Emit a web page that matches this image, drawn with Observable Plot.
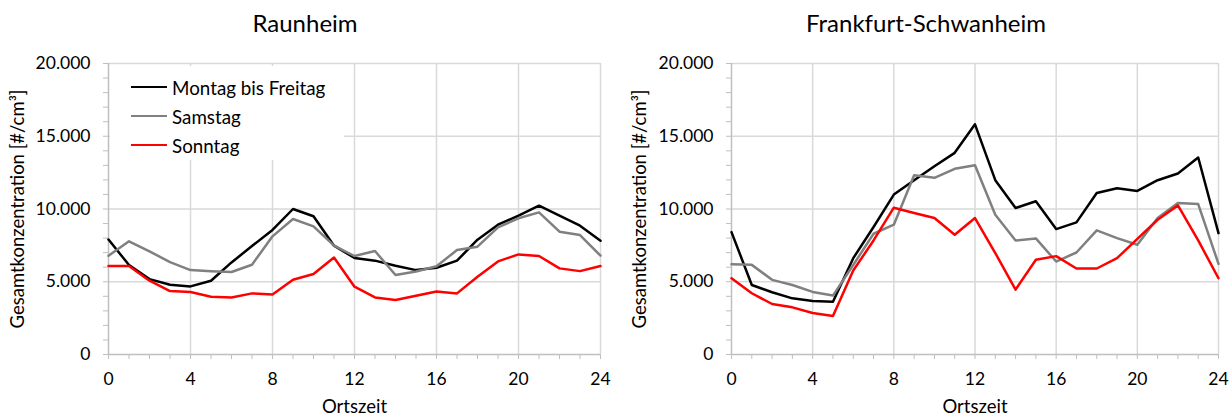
<!DOCTYPE html>
<html><head><meta charset="utf-8">
<script src="https://cdn.jsdelivr.net/npm/d3@7"></script>
<script src="https://cdn.jsdelivr.net/npm/@observablehq/plot@0.6"></script>
<style>
body{margin:0;background:#fff;font-family:Lato,"Open Sans",sans-serif;}
#wrap{position:relative;width:1231px;height:418px;overflow:hidden;}
.panel{position:absolute;top:45px;}
.title{position:absolute;top:8px;font-size:24px;line-height:29px;color:#000;transform:translateX(-50%);white-space:nowrap;}
.legend{position:absolute;left:110px;top:66px;width:234px;height:94px;background:#fff;}
.item{position:absolute;left:21px;height:22px;display:flex;align-items:center;font-size:18.8px;color:#000;white-space:nowrap;}
.sw{width:36px;height:0;border-top:2.5px solid;margin-right:5px;}
</style></head>
<body><div id="wrap"></div>
<script>
const hours = [0,1,2,3,4,5,6,7,8,9,10,11,12,13,14,15,16,17,18,19,20,21,22,23,24];
const seriesNames = ["Montag bis Freitag","Samstag","Sonntag"];
const seriesColors = ["#000000","#808080","#ff0000"];
const panelTitles = ["Raunheim","Frankfurt-Schwanheim"];
const yLabel = "Gesamtkonzentration [#/cm³]";
const xLabel = "Ortszeit";
const yMajorTicks = [0,5000,10000,15000,20000];
const yMinorTicks = [0,1000,2000,3000,4000,5000,6000,7000,8000,9000,10000,11000,12000,13000,14000,15000,16000,17000,18000,19000,20000];
const xMajorTicks = [0,4,8,12,16,20,24];

// Raunheim
const raunheimWeekday = [7900,6150,5180,4790,4680,5070,6330,7450,8560,10000,9500,7480,6630,6450,6100,5800,5960,6450,7890,8920,9540,10230,9540,8850,7820];
const raunheimSaturday = [6790,7780,7090,6350,5800,5730,5670,6170,8120,9310,8810,7480,6770,7110,5460,5710,6060,7180,7410,8740,9360,9770,8440,8210,6790];
const raunheimSunday = [6080,6080,5070,4360,4290,3970,3920,4200,4130,5140,5530,6670,4660,3920,3740,4040,4330,4200,5340,6400,6880,6770,5920,5730,6080];
// Frankfurt-Schwanheim
const schwanheimWeekday = [8410,4780,4280,3860,3680,3630,6620,8760,10990,11980,12940,13860,15820,11980,10070,10530,8620,9080,11100,11430,11240,11980,12440,13540,8340];
const schwanheimSaturday = [6210,6160,5130,4780,4300,4050,6150,8300,8920,12320,12140,12760,13010,9610,7840,7980,6390,7010,8530,8000,7540,9380,10410,10340,6230];
const schwanheimSunday = [5240,4210,3470,3240,2850,2640,5770,7840,10090,9720,9380,8230,9380,6970,4460,6510,6760,5910,5910,6620,7950,9260,10250,7840,5240];

const fmtDE = d3.formatLocale({decimal:",", thousands:".", grouping:[3], currency:["","€"]}).format(",d");

function rowsOf(series){
  const rows = [];
  series.forEach((vals, k) => hours.forEach((h, i) => rows.push({h, v: vals[i], s: seriesNames[k]})));
  return rows;
}

function chart(series, w, ml, mr, lblOff){
  const axisColor = "#bfbfbf", gridColor = "#d9d9d9";
  return Plot.plot({
    width: w, height: 373,
    marginTop: 18, marginBottom: 64, marginLeft: ml, marginRight: mr,
    style: {fontFamily: "Lato, 'Open Sans', sans-serif", fontSize: "17.5px", color: "#000", background: "transparent"},
    x: {domain: [0, 24]},
    y: {domain: [0, 20000]},
    color: {domain: seriesNames, range: seriesColors},
    marks: [
      Plot.gridY(yMajorTicks.slice(1), {stroke: gridColor, strokeOpacity: 1, strokeWidth: 1.5}),
      Plot.gridX(xMajorTicks.slice(1), {stroke: gridColor, strokeOpacity: 1, strokeWidth: 1.5}),
      Plot.axisY(yMinorTicks, {tickSize: 5, stroke: axisColor, tickFormat: () => "", label: null}),
      Plot.axisX(hours, {tickSize: 5, stroke: axisColor, tickFormat: () => "", label: null}),
      Plot.axisY(yMajorTicks, {tickSize: 0, tickPadding: 18, tickFormat: fmtDE, fontSize: "17.5px", label: null}),
      Plot.axisY([], {fontSize: "18.5px", label: yLabel, labelAnchor: "center", labelArrow: "none", labelOffset: lblOff}),
      Plot.axisX(xMajorTicks, {tickSize: 0, tickPadding: 18, fontSize: "17.5px", label: null}),
      Plot.axisX([], {fontSize: "18.5px", label: xLabel, labelAnchor: "center", labelArrow: "none", labelOffset: 58}),
      Plot.ruleX([0], {stroke: axisColor, strokeWidth: 1.5}),
      Plot.ruleY([0], {stroke: axisColor, strokeWidth: 1.5}),
      Plot.line(rowsOf(series), {x: "h", y: "v", z: "s", stroke: "s", strokeWidth: 2.5, strokeLinejoin: "round"})
    ]
  });
}

const wrap = document.getElementById("wrap");
const panels = [
  {series: [raunheimWeekday, raunheimSaturday, raunheimSunday], left: 0, w: 615, ml: 108, mr: 15, off: 98, tx: 305},
  {series: [schwanheimWeekday, schwanheimSaturday, schwanheimSunday], left: 615, w: 616, ml: 116, mr: 13, off: 99, tx: 926}
];
panels.forEach((p, i) => {
  const t = document.createElement("div");
  t.className = "title"; t.style.left = p.tx + "px"; t.textContent = panelTitles[i];
  wrap.appendChild(t);
  const d = document.createElement("div");
  d.className = "panel"; d.style.left = p.left + "px";
  d.appendChild(chart(p.series, p.w, p.ml, p.mr, p.off));
  wrap.appendChild(d);
});
// legend
const lg = document.createElement("div");
lg.className = "legend";
const legendTops = [10, 39, 68];
seriesNames.forEach((n, k) => {
  const it = document.createElement("div");
  it.className = "item"; it.style.top = legendTops[k] + "px";
  const sw = document.createElement("span"); sw.className = "sw"; sw.style.borderColor = seriesColors[k];
  it.appendChild(sw); it.appendChild(document.createTextNode(n));
  lg.appendChild(it);
});
wrap.appendChild(lg);
</script></body></html>
